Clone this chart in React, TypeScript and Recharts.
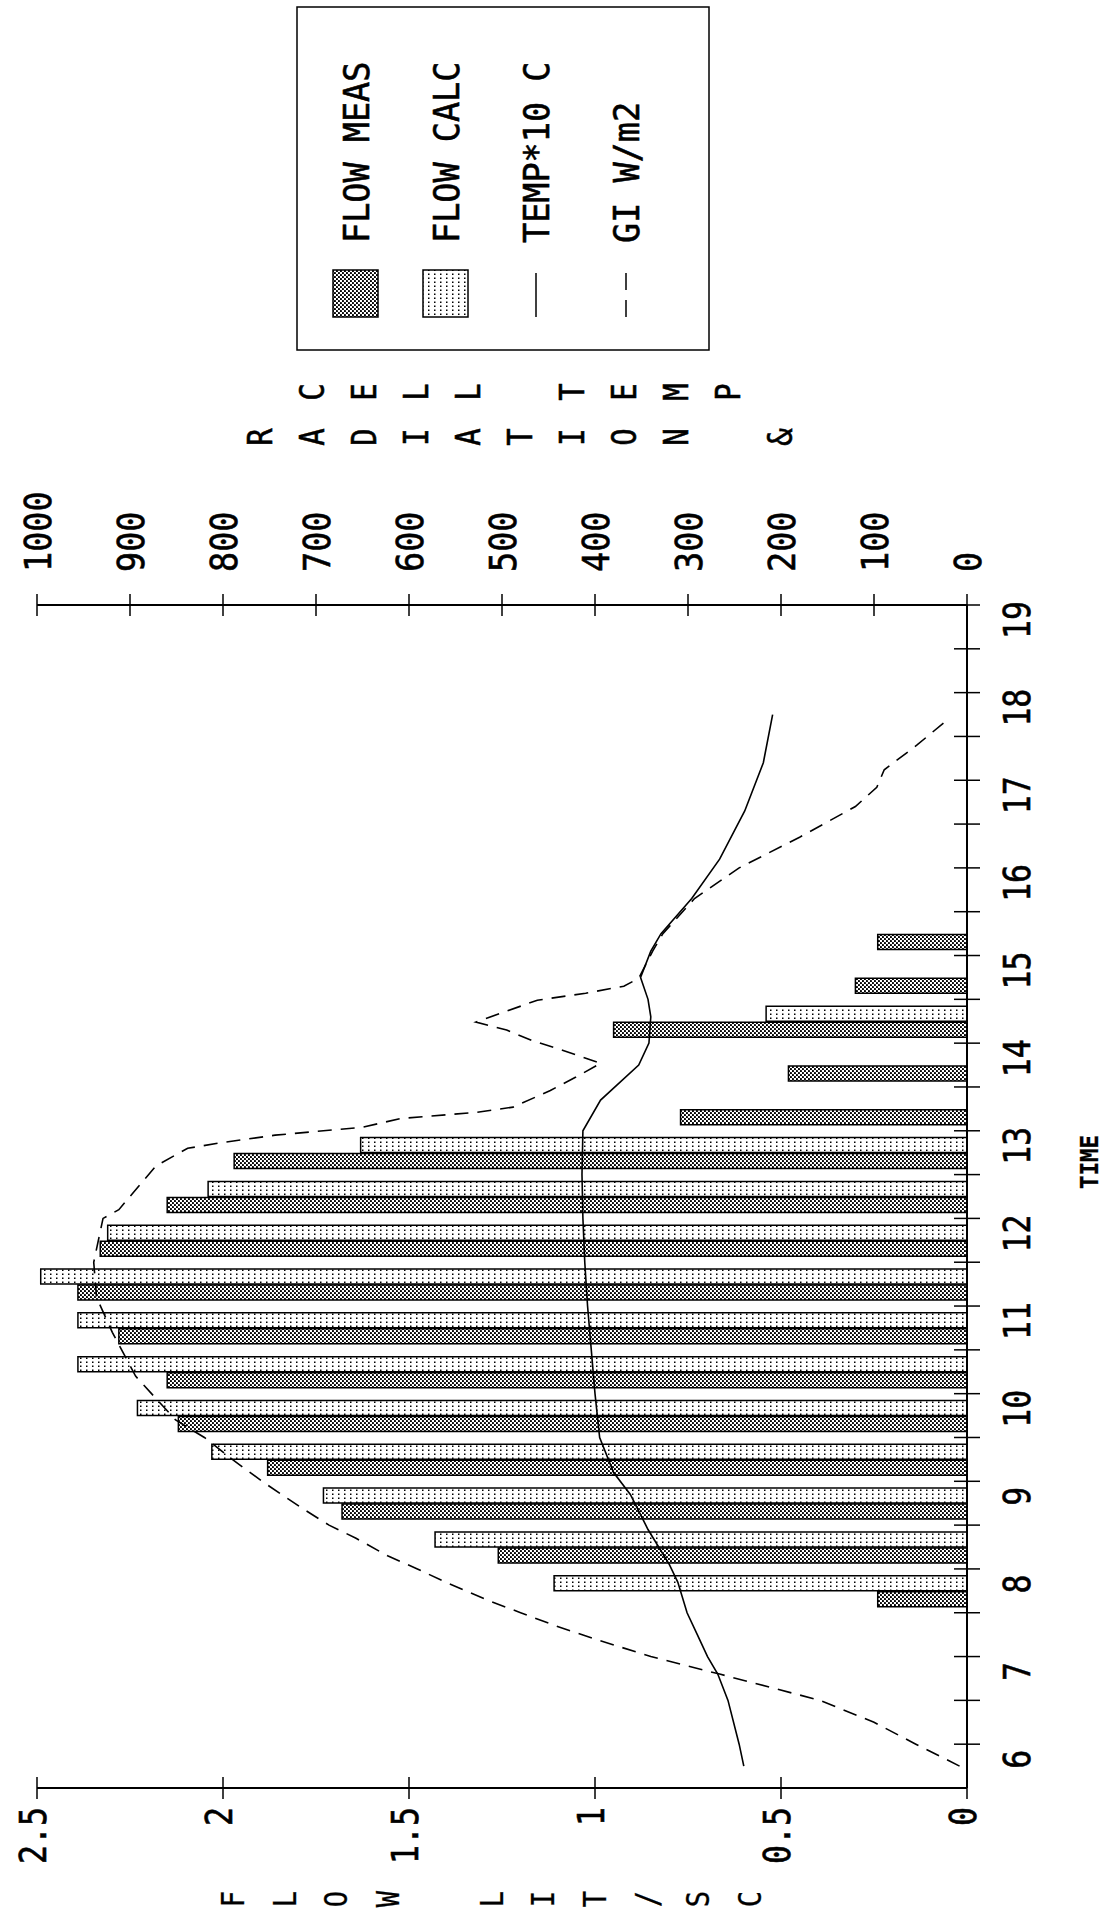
import React from 'react';
import { ComposedChart, Bar, Line, XAxis, YAxis } from 'recharts';

// Half-hourly flow slots (hour of day) with measured and calculated flow (lit/s)
const slotTimes = [7.75, 8.25, 8.75, 9.25, 9.75, 10.25, 10.75, 11.25, 11.75, 12.25, 12.75, 13.25, 13.75, 14.25, 14.75, 15.25];
const flowMeas = [0.24, 1.26, 1.68, 1.88, 2.12, 2.15, 2.28, 2.39, 2.33, 2.15, 1.97, 0.77, 0.48, 0.95, 0.3, 0.24];
const flowCalc = [1.11, 1.43, 1.73, 2.03, 2.23, 2.39, 2.39, 2.49, 2.31, 2.04, 1.63, null, null, 0.54, null, null];

// Cell temperature x10 (deg C)
const tempTimes = [5.75, 6.0, 6.5, 6.8, 7.0, 7.25, 7.5, 7.85, 8.05, 8.45, 8.85, 9.1, 9.5, 10.0, 10.5, 11.0, 11.5, 12.0, 12.5, 13.0, 13.35, 13.75, 14.0, 14.3, 14.5, 14.75, 15.05, 15.25, 15.65, 16.1, 16.65, 17.2, 17.75];
const tempValues = [240, 245, 257, 268, 279, 290, 301, 311, 320, 343, 362, 380, 395, 400, 404, 408, 411, 413, 414, 413, 394, 353, 342, 340, 343, 351, 340, 329, 296, 266, 239, 219, 209];

// Global irradiance (W/m2)
const giTimes = [5.75, 6.0, 6.25, 6.5, 6.8, 7.0, 7.2, 7.35, 7.5, 7.65, 7.85, 8.0, 8.15, 8.35, 8.5, 8.7, 9.0, 9.25, 9.5, 9.7, 10.2, 10.7, 11.1, 11.5, 12.0, 12.1, 12.4, 12.6, 12.8, 12.86, 12.95, 13.04, 13.14, 13.21, 13.27, 13.46, 13.61, 13.77, 13.92, 14.03, 14.15, 14.24, 14.49, 14.57, 14.65, 14.74, 15.05, 15.25, 15.65, 16.0, 16.35, 16.7, 16.92, 17.12, 17.4, 17.7];
const giValues = [8, 55, 100, 158, 266, 340, 400, 442, 480, 517, 561, 591, 623, 657, 686, 716, 758, 790, 820, 851, 894, 919, 936, 939, 929, 912, 888, 872, 838, 804, 744, 650, 609, 528, 488, 448, 421, 394, 435, 468, 495, 528, 462, 410, 369, 353, 338, 327, 293, 245, 180, 120, 97, 89, 54, 20];

const timeTicks = [6, 6.5, 7, 7.5, 8, 8.5, 9, 9.5, 10, 10.5, 11, 11.5, 12, 12.5, 13, 13.5, 14, 14.5, 15, 15.5, 16, 16.5, 17, 17.5, 18, 18.5, 19];
const flowTicks = [0, 0.5, 1, 1.5, 2, 2.5];
const radTicks = [0, 100, 200, 300, 400, 500, 600, 700, 800, 900, 1000];

const legendLabels = ['FLOW MEAS', 'FLOW CALC', 'TEMP*10 C', 'GI W/m2'];
const leftTitle = 'FLOW LIT/SC';
const rightTitleA = 'RADIATION &';
const rightTitleB = ' CELL TEMP';
const timeTitle = 'TIME';

const flowData = slotTimes.map((t, i) => ({ t, meas: flowMeas[i], calc: flowCalc[i] }));
const tempData = tempTimes.map((t, i) => ({ t, temp: tempValues[i] }));
const giData = giTimes.map((t, i) => ({ t, gi: giValues[i] }));

const FONT = '"DejaVu Sans Mono", monospace';
const W = 1928;
const H = 1103;

function Glyphs({ x, y, text, size, sx = 0.83, anchor = 'start', weight = 'normal', edge = 0.6 }: any) {
  return (
    <text
      transform={`translate(${x},${y}) scale(${sx},1)`}
      fontFamily={FONT}
      fontSize={size}
      fontWeight={weight}
      textAnchor={anchor}
      fill="#000"
      stroke="#000"
      strokeWidth={edge}
    >
      {text}
    </text>
  );
}

const TimeTick = (props: any) => {
  const { x, y, payload } = props;
  const v = payload.value;
  const major = Number.isInteger(v);
  return (
    <g>
      <line x1={x} x2={x} y1={y - 13} y2={y + 13} stroke="#000" strokeWidth={1.5} />
      {major && <Glyphs x={x - 15} y={y + 63} text={String(v)} size={38} anchor="middle" />}
    </g>
  );
};

const FlowTick = (props: any) => {
  const { x, y, payload } = props;
  return (
    <g>
      <line x1={x - 11} x2={x + 11} y1={y} y2={y} stroke="#000" strokeWidth={1.5} />
      <Glyphs x={x - 19} y={y + 9} text={String(payload.value)} size={38} anchor="end" />
    </g>
  );
};

const RadTick = (props: any) => {
  const { x, y, payload } = props;
  return (
    <g>
      <line x1={x - 11} x2={x + 11} y1={y} y2={y} stroke="#000" strokeWidth={1.5} />
      <Glyphs x={x + 33} y={y + 14} text={String(payload.value)} size={38} anchor="start" sx={0.88} />
    </g>
  );
};

function Patterns({ suffix }: { suffix: string }) {
  return (
    <defs>
      <pattern id={`meas${suffix}`} width={4} height={4} patternUnits="userSpaceOnUse">
        <rect width={4} height={4} fill="#fff" />
        <rect x={0} y={0} width={1.9} height={1.9} fill="#000" />
        <rect x={2} y={2} width={1.9} height={1.9} fill="#000" />
      </pattern>
      <pattern id={`calc${suffix}`} width={4} height={6} patternUnits="userSpaceOnUse">
        <rect width={4} height={6} fill="#fff" />
        <rect x={1} y={2} width={1.5} height={1.5} fill="#000" />
      </pattern>
    </defs>
  );
}

function Overlay() {
  const rowY = [356, 446, 536, 626];
  return (
    <svg width={W} height={H} style={{ position: 'absolute', left: 0, top: 0, pointerEvents: 'none' }}>
      <Patterns suffix="Key" />
      {/* left axis title, stacked letters */}
      {leftTitle.split('').map((c, i) => (
        <Glyphs key={`l${i}`} x={29} y={232 + 51.7 * i + 12} text={c} size={32} anchor="middle" sx={0.85} edge={0.3} />
      ))}
      {/* right axis title, two stacked columns */}
      {rightTitleA.split('').map((c, i) => (
        <Glyphs key={`ra${i}`} x={1491} y={260 + 52 * i + 12} text={c} size={34} anchor="middle" sx={0.85} />
      ))}
      {rightTitleB.split('').map((c, i) => (
        <Glyphs key={`rb${i}`} x={1536} y={260 + 52 * i + 12} text={c} size={34} anchor="middle" sx={0.85} />
      ))}
      <Glyphs x={766} y={1098} text={timeTitle} size={25} anchor="middle" sx={0.9} weight="bold" edge={0.3} />
      {/* key */}
      <rect x={1578} y={297} width={343} height={412} fill="none" stroke="#000" strokeWidth={1.5} />
      <rect x={1611} y={rowY[0] - 23} width={47} height={45} fill="url(#measKey)" stroke="#000" strokeWidth={1.5} />
      <rect x={1611} y={rowY[1] - 23} width={47} height={45} fill="url(#calcKey)" stroke="#000" strokeWidth={1.5} />
      <line x1={1611} x2={1655} y1={rowY[2]} y2={rowY[2]} stroke="#000" strokeWidth={1.5} />
      <line x1={1611} x2={1655} y1={rowY[3]} y2={rowY[3]} stroke="#000" strokeWidth={1.5} strokeDasharray="17 10" />
      {legendLabels.map((s, i) => (
        <Glyphs key={`k${i}`} x={1685} y={rowY[i] + 13} text={s} size={36} anchor="start" sx={0.93} />
      ))}
    </svg>
  );
}

export default function App() {
  return (
    <div style={{ position: 'absolute', left: 0, top: 0, width: H, height: W, background: '#fff', overflow: 'hidden' }}>
      <div
        style={{
          position: 'absolute',
          left: 0,
          top: 0,
          width: W,
          height: H,
          transformOrigin: '0 0',
          transform: `translate(0px, ${W}px) rotate(-90deg)`,
        }}
      >
        <ComposedChart
          width={W}
          height={H}
          data={flowData}
          margin={{ top: 37, right: 505, bottom: 76, left: 0 }}
          barGap={1}
        >
          <Patterns suffix="Bar" />
          <XAxis
            xAxisId="bars"
            dataKey="t"
            type="number"
            domain={[5.5, 19]}
            ticks={timeTicks}
            interval={0}
            height={60}
            tickSize={0}
            tickMargin={0}
            tickLine={false}
            axisLine={{ stroke: '#000', strokeWidth: 2 }}
            tick={<TimeTick />}
          />
          <XAxis xAxisId="lines" dataKey="t" type="number" domain={[5.5, 19]} hide />
          <YAxis
            yAxisId="flow"
            orientation="left"
            width={140}
            domain={[0, 2.5]}
            ticks={flowTicks}
            interval={0}
            tickSize={0}
            tickMargin={0}
            tickLine={false}
            axisLine={{ stroke: '#000', strokeWidth: 2 }}
            tick={<FlowTick />}
          />
          <YAxis
            yAxisId="rad"
            orientation="right"
            width={100}
            domain={[0, 1000]}
            ticks={radTicks}
            interval={0}
            tickSize={0}
            tickMargin={0}
            tickLine={false}
            axisLine={{ stroke: '#000', strokeWidth: 2 }}
            tick={<RadTick />}
          />
          <Bar
            xAxisId="bars"
            yAxisId="flow"
            dataKey="meas"
            barSize={15}
            fill="url(#measBar)"
            stroke="#000"
            strokeWidth={1.5}
            isAnimationActive={false}
          />
          <Bar
            xAxisId="bars"
            yAxisId="flow"
            dataKey="calc"
            barSize={15}
            fill="url(#calcBar)"
            stroke="#000"
            strokeWidth={1.5}
            isAnimationActive={false}
          />
          <Line
            xAxisId="lines"
            yAxisId="rad"
            data={tempData}
            dataKey="temp"
            type="linear"
            stroke="#000"
            strokeWidth={1.6}
            dot={false}
            isAnimationActive={false}
          />
          <Line
            xAxisId="lines"
            yAxisId="rad"
            data={giData}
            dataKey="gi"
            type="linear"
            stroke="#000"
            strokeWidth={1.6}
            strokeDasharray="14 9"
            dot={false}
            isAnimationActive={false}
          />
        </ComposedChart>
        <Overlay />
      </div>
    </div>
  );
}
